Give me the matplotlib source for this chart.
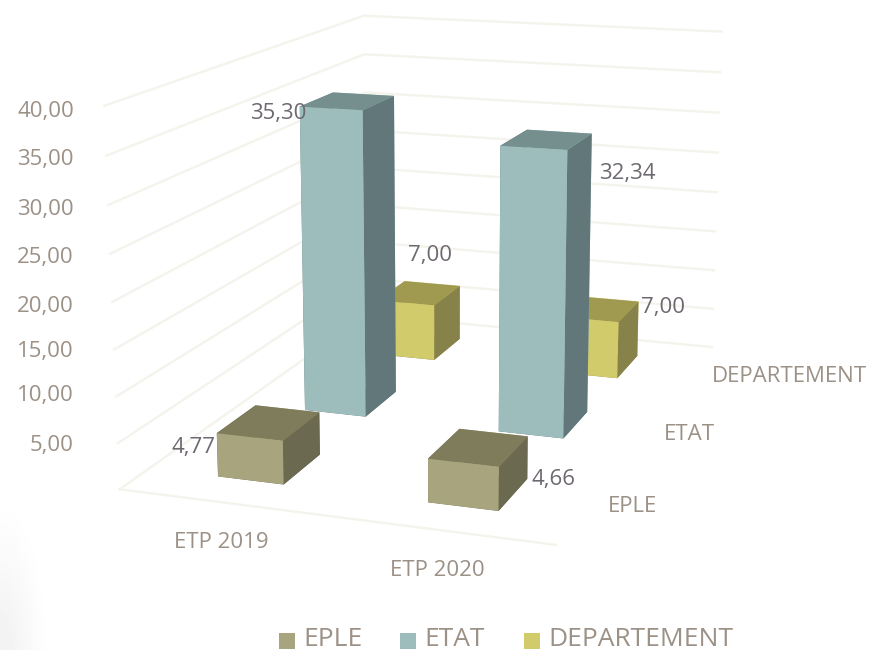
import numpy as np
import matplotlib
matplotlib.use('Agg')
import matplotlib.pyplot as plt
from matplotlib.patches import Rectangle

years = ['ETP 2019', 'ETP 2020']
series = ['EPLE', 'ETAT', 'DEPARTEMENT']
eple = [4.77, 4.66]
etat = [35.30, 32.34]
departement = [7.00, 7.00]
z_ticks = [0, 5, 10, 15, 20, 25, 30, 35, 40]
z_labels = ['', '5,00', '10,00', '15,00', '20,00', '25,00', '30,00', '35,00', '40,00']
value_text = ['4,77', '4,66', '35,30', '32,34', '7,00', '7,00']

# front, top, side colours for each series
front = ['#a8a57e', '#9dbdbc', '#d2cb6c']
top = ['#7f7c5c', '#748f8e', '#a09a50']
side = ['#6b6950', '#61777a', '#87824a']
text_col = '#9c9187'
value_col = '#6e6970'
grid_col = '#f4f3ec'

W, H = 870, 650

# box corners (x, y, z) and where they sit on the picture, used to fit the camera
box_pts = [(0, 0, 0), (2, 0, 0), (0, 3, 0), (2, 3, 0), (0, 0, 40), (0, 3, 40), (2, 3, 40)]
pix_pts = [(120, 488), (555, 547), (367, 317), (712, 344), (105, 105), (363, 15), (722, 33)]


def fit_camera(world, pix):
    rows = []
    for (x, y, z), (u, v) in zip(world, pix):
        rows.append([x, y, z, 1, 0, 0, 0, 0, -u*x, -u*y, -u*z, -u])
        rows.append([0, 0, 0, 0, x, y, z, 1, -v*x, -v*y, -v*z, -v])
    P = np.linalg.svd(np.array(rows, float))[2][-1].reshape(3, 4)
    # w has to be positive
    if P[2] @ np.array([1, 1.5, 20, 1]) < 0:
        P = -P
    return P


cam = fit_camera(box_pts, pix_pts)

fig = plt.figure(figsize=(W/100, H/100), dpi=100)

# soft grey shade in the lower left corner
bg = fig.add_axes([0, 0, 1, 1], zorder=-1)
gx, gy = np.meshgrid(np.arange(W), np.arange(H))
r = np.clip(np.hypot(gx/55.0, (H - gy)/170.0), 0, 1)
shade = 0.95 + 0.05*r*r*(3 - 2*r)
bg.imshow(shade, cmap='gray', vmin=0, vmax=1, aspect='auto')
bg.set_axis_off()

ax = fig.add_axes([-0.1, -0.5, 1.2, 2.0], projection='3d', computed_zorder=False)
ax.patch.set_alpha(0)
ax.set_axis_off()


def get_proj():
    # data -> picture pixels -> the 2d limits of the 3d axes
    flip = np.array([[1, 0, 0], [0, -1, H], [0, 0, 1.0]])
    T = ax.transData.inverted().get_matrix() @ flip @ cam
    return np.array([T[0], T[1], [0, 0, 0, -1.0], T[2]])


ax.get_proj = get_proj

# walls grid
for z in z_ticks:
    ax.plot([0, 0, 2], [0, 3, 3], [z, z, z], color=grid_col, lw=1.7, zorder=0)
ax.plot([0, 2], [0, 0], [0, 0], color=grid_col, lw=1.7, zorder=0)

bar_w = 0.32
bar_d = 0.42
# back row first
for j in [2, 1, 0]:
    vals = [eple, etat, departement][j]
    for i, v in enumerate(vals):
        # -z, +z, -y, +y, -x, +x
        cols = [side[j], top[j], front[j], front[j], side[j], side[j]]
        ax.bar3d(i + 0.5 - bar_w/2, j + 0.5 - bar_d/2, 0, bar_w, bar_d, v,
                 color=cols, shade=False, zsort='max', zorder=5 + 2 - j)
ax.set_xlim(0, 2)
ax.set_ylim(0, 3)
ax.set_zlim(0, 40)


def px(x, y, s, **kw):
    kw.setdefault('color', text_col)
    kw.setdefault('fontsize', 16)
    kw.setdefault('family', 'Open Sans')
    fig.text(x/W, 1 - y/H, s, va='center', **kw)


for y, s in zip([492, 445, 396, 351, 306, 257, 209, 160, 112], z_labels):
    px(74, y, s, ha='right')
px(221, 542, years[0], ha='center')
px(437, 571, years[1], ha='center')
px(633, 507, series[0], ha='center')
px(689, 435, series[1], ha='center')
px(789, 377, series[2], ha='center')

for (x, y), s in zip([(194, 448), (554, 479), (278, 114), (627, 174), (430, 256), (663, 308)], value_text):
    px(x, y, s, ha='center', color=value_col)

# legend
for x, c in zip([279, 400, 524], front):
    fig.patches.append(Rectangle((x/W, 1 - 649/H), 16/W, 16/H, transform=fig.transFigure, color=c, lw=0))
for x, s in zip([303, 424, 548], series):
    px(x, 639, s, ha='left', fontsize=19)

fig.savefig('out.png', dpi=100)
